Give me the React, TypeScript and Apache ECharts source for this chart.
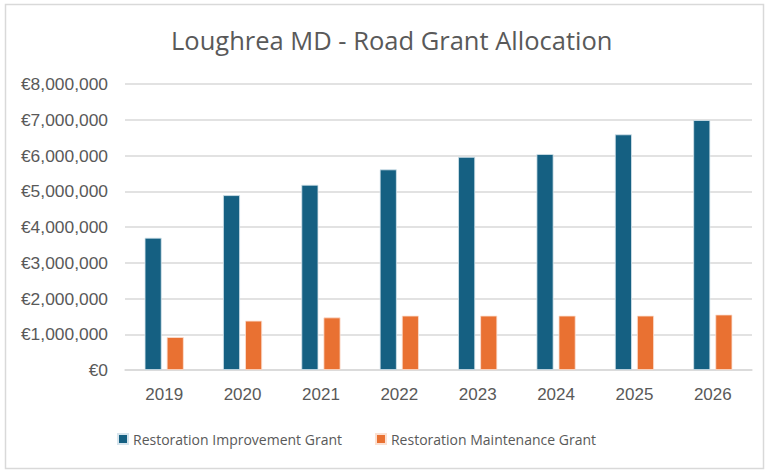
import React, { useEffect, useRef } from "react";
import * as echarts from "echarts";

const categories = ["2019", "2020", "2021", "2022", "2023", "2024", "2025", "2026"];
const improvementGrant = [3700000, 4890000, 5180000, 5610000, 5960000, 6040000, 6590000, 6990000];
const maintenanceGrant = [920000, 1380000, 1470000, 1520000, 1520000, 1520000, 1520000, 1550000];
const seriesNames = ["Restoration Improvement Grant", "Restoration Maintenance Grant"];
const titleText = "Loughrea MD - Road Grant Allocation";

export default function App() {
  const ref = useRef<HTMLDivElement>(null);
  useEffect(() => {
    if (!ref.current) return;
    const chart = echarts.init(ref.current, null, { renderer: "svg" });
    const fmt = (v: number) => "€" + v.toLocaleString("en-US");
    chart.setOption({
      animation: false,
      backgroundColor: "#ffffff",
      title: {
        text: titleText,
        left: 166,
        top: 22,
        textStyle: { fontFamily: "Open Sans", fontSize: 25.5, fontWeight: "normal", color: "#595959" },
      },
      graphic: [
        {
          type: "rect",
          shape: { x: 5.5, y: 4.5, width: 758, height: 464 },
          style: { fill: "none", stroke: "#D9D9D9", lineWidth: 1.5 },
          silent: true,
        },
      ],
      legend: {
        bottom: 19,
        left: 112,
        itemWidth: 10,
        itemHeight: 10,
        itemGap: 33,
        icon: "rect",
        textStyle: { fontFamily: "Open Sans", fontSize: 14, color: "#595959" },
        data: seriesNames,
      },
      grid: { left: 125, right: 13, top: 84, bottom: 100, containLabel: false },
      xAxis: {
        type: "category",
        data: categories,
        axisLine: { lineStyle: { color: "#D9D9D9", width: 1.5 } },
        axisTick: { show: false },
        axisLabel: { fontFamily: "Liberation Sans", fontSize: 17, color: "#595959", margin: 16 },
      },
      yAxis: {
        type: "value",
        min: 0,
        max: 8000000,
        interval: 1000000,
        axisLine: { show: false },
        axisTick: { show: false },
        splitLine: { lineStyle: { color: "#D9D9D9", width: 1.5 } },
        axisLabel: { fontFamily: "Liberation Sans", fontSize: 17.4, color: "#595959", margin: 17, formatter: fmt },
      },
      series: [
        {
          name: seriesNames[0],
          type: "bar",
          data: improvementGrant,
          barWidth: 17,
          barGap: "30%",
          itemStyle: { color: "#156082", borderColor: "#D6E4EC", borderWidth: 0.8 },
        },
        {
          name: seriesNames[1],
          type: "bar",
          data: maintenanceGrant,
          barWidth: 17,
          barGap: "30%",
          itemStyle: { color: "#E97132", borderColor: "#FBE0D2", borderWidth: 0.8 },
        },
      ],
    });
    return () => chart.dispose();
  }, []);
  return (
    <div
      ref={ref}
      style={{ position: "absolute", left: 0, top: 0, width: 765, height: 470 }}
    />
  );
}
